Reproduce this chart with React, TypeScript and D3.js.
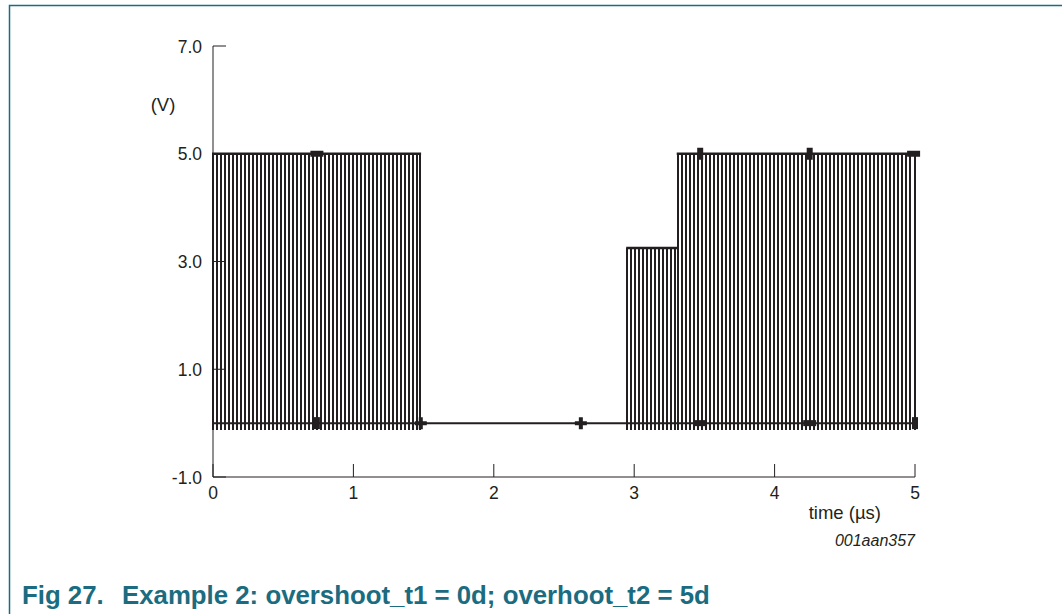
import { useEffect, useRef } from 'react';
import * as d3 from 'd3';

// axis ticks
const timeTicks = [0, 1, 2, 3, 4, 5];
const voltTicks = [-1, 1, 3, 5, 7];

// pulse bursts: start / end time (µs), high level (V)
const burstStart = [0, 2.95, 3.31];
const burstEnd = [1.475, 3.31, 5.0];
const burstHigh = [5.0, 3.25, 5.0];
const burstLow = -0.13;
const pulsePeriod = 0.0285;

// markers on the traces
const markTime = [0.74, 3.47, 4.25, 4.99, 0.74, 1.48, 2.62, 3.47, 4.25, 5.0];
const markVolt = [5, 5, 5, 5, 0, 0, 0, 0, 0, 0];
const markShape = ['h', 'v', 'v', 'h', 'v', 'plus', 'plus', 'h', 'h', 'v'];

const W = 1062;
const H = 614;
const ink = '#231f20';
const teal = '#1b6c80';
const font = 'Arial, "Liberation Sans", sans-serif';

const App = () => {
  const svgRef = useRef<SVGSVGElement>(null);

  useEffect(() => {
    if (!svgRef.current) return;
    const svg = d3.select(svgRef.current);
    svg.selectAll('*').remove();

    const x = d3.scaleLinear().domain([0, 5]).range([213, 915]);
    const y = d3.scaleLinear().domain([-1, 7]).range([477, 46]);

    // frame
    svg.append('path')
      .attr('d', `M9.5,${H} L9.5,5.5 L${W},5.5`)
      .attr('fill', 'none')
      .attr('stroke', teal)
      .attr('stroke-width', 1.5);

    // axes
    const g = svg.append('g');
    g.append('line')
      .attr('x1', x(0)).attr('x2', x(0))
      .attr('y1', y(7)).attr('y2', y(-1))
      .attr('stroke', ink).attr('stroke-width', 1);
    g.append('line')
      .attr('x1', x(0)).attr('x2', x(5))
      .attr('y1', y(-1)).attr('y2', y(-1))
      .attr('stroke', ink).attr('stroke-width', 1);

    g.selectAll('.ytick')
      .data(voltTicks)
      .enter()
      .append('line')
      .attr('x1', x(0)).attr('x2', x(0) + 13)
      .attr('y1', d => y(d)).attr('y2', d => y(d))
      .attr('stroke', ink).attr('stroke-width', 1);

    g.selectAll('.ylab')
      .data(voltTicks)
      .enter()
      .append('text')
      .attr('x', 202)
      .attr('y', d => y(d) + 6.5)
      .attr('text-anchor', 'end')
      .attr('font-family', font)
      .attr('font-size', 17.5)
      .attr('fill', ink)
      .text(d => d.toFixed(1));

    g.selectAll('.xtick')
      .data(timeTicks)
      .enter()
      .append('line')
      .attr('x1', d => x(d)).attr('x2', d => x(d))
      .attr('y1', y(-1)).attr('y2', y(-1) - 13)
      .attr('stroke', ink).attr('stroke-width', 1);

    g.selectAll('.xlab')
      .data(timeTicks)
      .enter()
      .append('text')
      .attr('x', d => x(d))
      .attr('y', 499)
      .attr('text-anchor', 'middle')
      .attr('font-family', font)
      .attr('font-size', 17.5)
      .attr('fill', ink)
      .text(d => String(d));

    // baseline trace at 0 V
    g.append('line')
      .attr('x1', x(0)).attr('x2', x(5))
      .attr('y1', y(0)).attr('y2', y(0))
      .attr('stroke', ink).attr('stroke-width', 2);

    // pulse bursts
    burstStart.forEach((t0, i) => {
      const t1 = burstEnd[i];
      const hi = burstHigh[i];
      const times = d3.range(t0, t1 - pulsePeriod * 0.3, pulsePeriod).concat([t1]);
      g.selectAll(`.pulse${i}`)
        .data(times)
        .enter()
        .append('line')
        .attr('x1', d => x(d)).attr('x2', d => x(d))
        .attr('y1', y(hi)).attr('y2', y(burstLow))
        .attr('stroke', ink).attr('stroke-width', 2)
        .attr('shape-rendering', 'crispEdges');
      g.append('line')
        .attr('x1', x(t0) - 1).attr('x2', x(t1) + 1)
        .attr('y1', y(hi)).attr('y2', y(hi))
        .attr('stroke', ink).attr('stroke-width', 2.4);
    });

    // markers
    const cross = d3.symbol().type(d3.symbolCross).size(80);
    markTime.forEach((t, i) => {
      const cx = x(t);
      const cy = y(markVolt[i]);
      const shape = markShape[i];
      if (shape === 'plus') {
        g.append('path')
          .attr('d', cross())
          .attr('transform', `translate(${cx},${cy})`)
          .attr('fill', ink);
      } else {
        const w = shape === 'h' ? 13 : 6;
        const h = shape === 'h' ? 6 : 12;
        g.append('rect')
          .attr('x', cx - w / 2).attr('y', cy - h / 2)
          .attr('width', w).attr('height', h)
          .attr('fill', ink);
      }
    });

    // labels
    g.append('text')
      .attr('x', 163).attr('y', 111)
      .attr('text-anchor', 'middle')
      .attr('font-family', font).attr('font-size', 18.5).attr('fill', ink)
      .text('(V)');
    g.append('text')
      .attr('x', 881).attr('y', 519)
      .attr('text-anchor', 'end')
      .attr('font-family', font).attr('font-size', 18.5).attr('fill', ink)
      .text('time (µs)');
    g.append('text')
      .attr('x', 915).attr('y', 546)
      .attr('text-anchor', 'end')
      .attr('font-family', font).attr('font-size', 16).attr('font-style', 'italic').attr('fill', ink)
      .text('001aan357');

    // caption
    const cap = svg.append('text')
      .attr('y', 604)
      .attr('font-family', font)
      .attr('font-size', 25.8)
      .attr('font-weight', 'bold')
      .attr('fill', teal);
    cap.append('tspan').attr('x', 22).text('Fig 27.');
    cap.append('tspan').attr('x', 122).text('Example 2: overshoot_t1 = 0d; overhoot_t2 = 5d');
  }, []);

  return (
    <svg
      ref={svgRef}
      width={W}
      height={H}
      style={{ position: 'absolute', left: 0, top: 0, background: '#fff' }}
    />
  );
};

export default App;
